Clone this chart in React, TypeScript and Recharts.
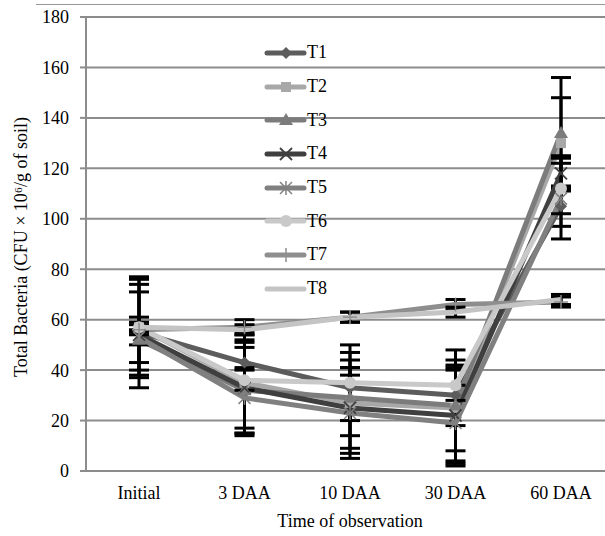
import React from "react";
import { LineChart, Line, XAxis, YAxis, CartesianGrid, Legend, ErrorBar } from "recharts";

const FONT = '"Liberation Serif", "Times New Roman", serif';

const categories = ["Initial", "3 DAA", "10 DAA", "30 DAA", "60 DAA"];
const yTicks = [0, 20, 40, 60, 80, 100, 120, 140, 160, 180];
const seriesNames = ["T1", "T2", "T3", "T4", "T5", "T6", "T7", "T8"];

// means
const t1 = [55, 43, 33, 30, 105];
const t2 = [57, 35, 27, 25, 130];
const t3 = [52, 32, 29, 26, 134];
const t4 = [54, 33, 25, 22, 118];
const t5 = [53, 29, 23, 19, 108];
const t6 = [57, 36, 35, 34, 112];
const t7 = [56, 57, 61, 66, 67];
const t8 = [57, 56, 61, 63, 68];

// standard errors
const t1Err = [22, 8, 5, 12, 8];
const t2Err = [19, 20, 20, 23, 18];
const t3Err = [9, 17, 15, 18, 22];
const t4Err = [17, 19, 16, 19, 7];
const t5Err = [3, 12, 18, 15, 16];
const t6Err = [17, 4, 15, 6, 10];
const t7Err = [2, 3, 2, 2, 2];
const t8Err = [2, 2, 2, 2, 2];

const seriesValues = [t1, t2, t3, t4, t5, t6, t7, t8];
const seriesErrors = [t1Err, t2Err, t3Err, t4Err, t5Err, t6Err, t7Err, t8Err];

const seriesStyle = [
  { color: "#5c5c5c", shape: "diamond" },
  { color: "#a8a8a8", shape: "square" },
  { color: "#7c7c7c", shape: "triangle" },
  { color: "#3f3f3f", shape: "x" },
  { color: "#808080", shape: "star" },
  { color: "#c9c9c9", shape: "circle" },
  { color: "#8e8e8e", shape: "plus" },
  { color: "#c4c4c4", shape: "none" },
];

const data = categories.map((name, i) => {
  const row: Record<string, string | number> = { name };
  seriesNames.forEach((s, k) => {
    row[s] = seriesValues[k][i];
    row[s + "e"] = seriesErrors[k][i];
  });
  return row;
});

function Marker({ cx, cy, shape, color }: { cx?: number; cy?: number; shape: string; color: string }) {
  if (cx == null || cy == null) return <g />;
  switch (shape) {
    case "diamond":
      return <polygon points={`${cx},${cy - 6} ${cx + 6},${cy} ${cx},${cy + 6} ${cx - 6},${cy}`} fill={color} />;
    case "square":
      return <rect x={cx - 5} y={cy - 5} width={10} height={10} fill={color} />;
    case "triangle":
      return <polygon points={`${cx},${cy - 7} ${cx + 7},${cy + 5} ${cx - 7},${cy + 5}`} fill={color} />;
    case "x":
      return (
        <g stroke={color} strokeWidth={1.8}>
          <line x1={cx - 6} y1={cy - 6} x2={cx + 6} y2={cy + 6} />
          <line x1={cx - 6} y1={cy + 6} x2={cx + 6} y2={cy - 6} />
        </g>
      );
    case "star":
      return (
        <g stroke={color} strokeWidth={1.5}>
          <line x1={cx - 6} y1={cy - 6} x2={cx + 6} y2={cy + 6} />
          <line x1={cx - 6} y1={cy + 6} x2={cx + 6} y2={cy - 6} />
          <line x1={cx} y1={cy - 7} x2={cx} y2={cy + 7} />
        </g>
      );
    case "circle":
      return <circle cx={cx} cy={cy} r={6} fill={color} />;
    case "plus":
      return (
        <g stroke={color} strokeWidth={1.5}>
          <line x1={cx} y1={cy - 7} x2={cx} y2={cy + 7} />
          <line x1={cx - 7} y1={cy} x2={cx + 7} y2={cy} />
        </g>
      );
    default:
      return <g />;
  }
}

const renderLegend = () => (
  <div style={{ fontFamily: FONT, fontSize: 18, color: "#000" }}>
    {seriesNames.map((name, k) => (
      <div key={name} style={{ display: "flex", alignItems: "center", height: 33.7 }}>
        <svg width={43} height={20}>
          <line x1={3} y1={10} x2={40} y2={10} stroke={seriesStyle[k].color} strokeWidth={5} strokeLinecap="round" />
          <Marker cx={22} cy={10} shape={seriesStyle[k].shape} color={seriesStyle[k].color} />
        </svg>
        <span>{name}</span>
      </div>
    ))}
  </div>
);

const yLabel = () => {
  const x = 27;
  const y = 247;
  return (
    <text x={x} y={y} transform={`rotate(-90 ${x} ${y})`} textAnchor="middle" fontFamily={FONT} fontSize={18} fill="#000">
      Total Bacteria (CFU × 10⁶/g of soil)
    </text>
  );
};

export default function App() {
  return (
    <div style={{ position: "absolute", left: 0, top: 0, width: 605, height: 536, overflow: "hidden", background: "#fff", fontFamily: FONT }}>
      <div style={{ position: "absolute", left: 36, right: 0, top: 4, height: 1, background: "#999" }} />
      <LineChart width={620} height={536} data={data} margin={{ top: 17, right: 6, bottom: 0, left: 0 }}>
        <CartesianGrid vertical={false} stroke="#8c8c8c" strokeWidth={2} />
        <XAxis
          dataKey="name"
          height={65}
          interval={0}
          padding={{ left: 53, right: 53 }}
          tickLine={false}
          tickSize={6}
          tickMargin={9}
          axisLine={{ stroke: "#8c8c8c", strokeWidth: 2 }}
          tick={{ fill: "#000", fontSize: 18, fontFamily: FONT }}
          label={{ value: "Time of observation", position: "insideBottom", offset: 9, fill: "#000", fontSize: 18, fontFamily: FONT }}
        />
        <YAxis
          width={86}
          domain={[0, 180]}
          ticks={yTicks}
          allowDataOverflow
          tickSize={6}
          tickMargin={11}
          tickLine={{ stroke: "#8c8c8c", strokeWidth: 2 }}
          axisLine={{ stroke: "#8c8c8c", strokeWidth: 2 }}
          tick={{ fill: "#000", fontSize: 18, fontFamily: FONT }}
          label={{ content: yLabel }}
        />
        <Legend
          layout="vertical"
          align="center"
          verticalAlign="middle"
          content={renderLegend}
          wrapperStyle={{ left: 264, top: 36, width: 90 }}
        />
        {seriesNames.map((name, k) => (
          <Line
            key={name}
            dataKey={name}
            type="linear"
            stroke={seriesStyle[k].color}
            strokeWidth={5}
            strokeLinejoin="round"
            isAnimationActive={false}
            dot={(p: any) => (
              <Marker key={`${name}-${p.index}`} cx={p.cx} cy={p.cy} shape={seriesStyle[k].shape} color={seriesStyle[k].color} />
            )}
            activeDot={false}
          >
            <ErrorBar dataKey={name + "e"} direction="y" width={10} strokeWidth={3} stroke="#000" />
          </Line>
        ))}
      </LineChart>
    </div>
  );
}
